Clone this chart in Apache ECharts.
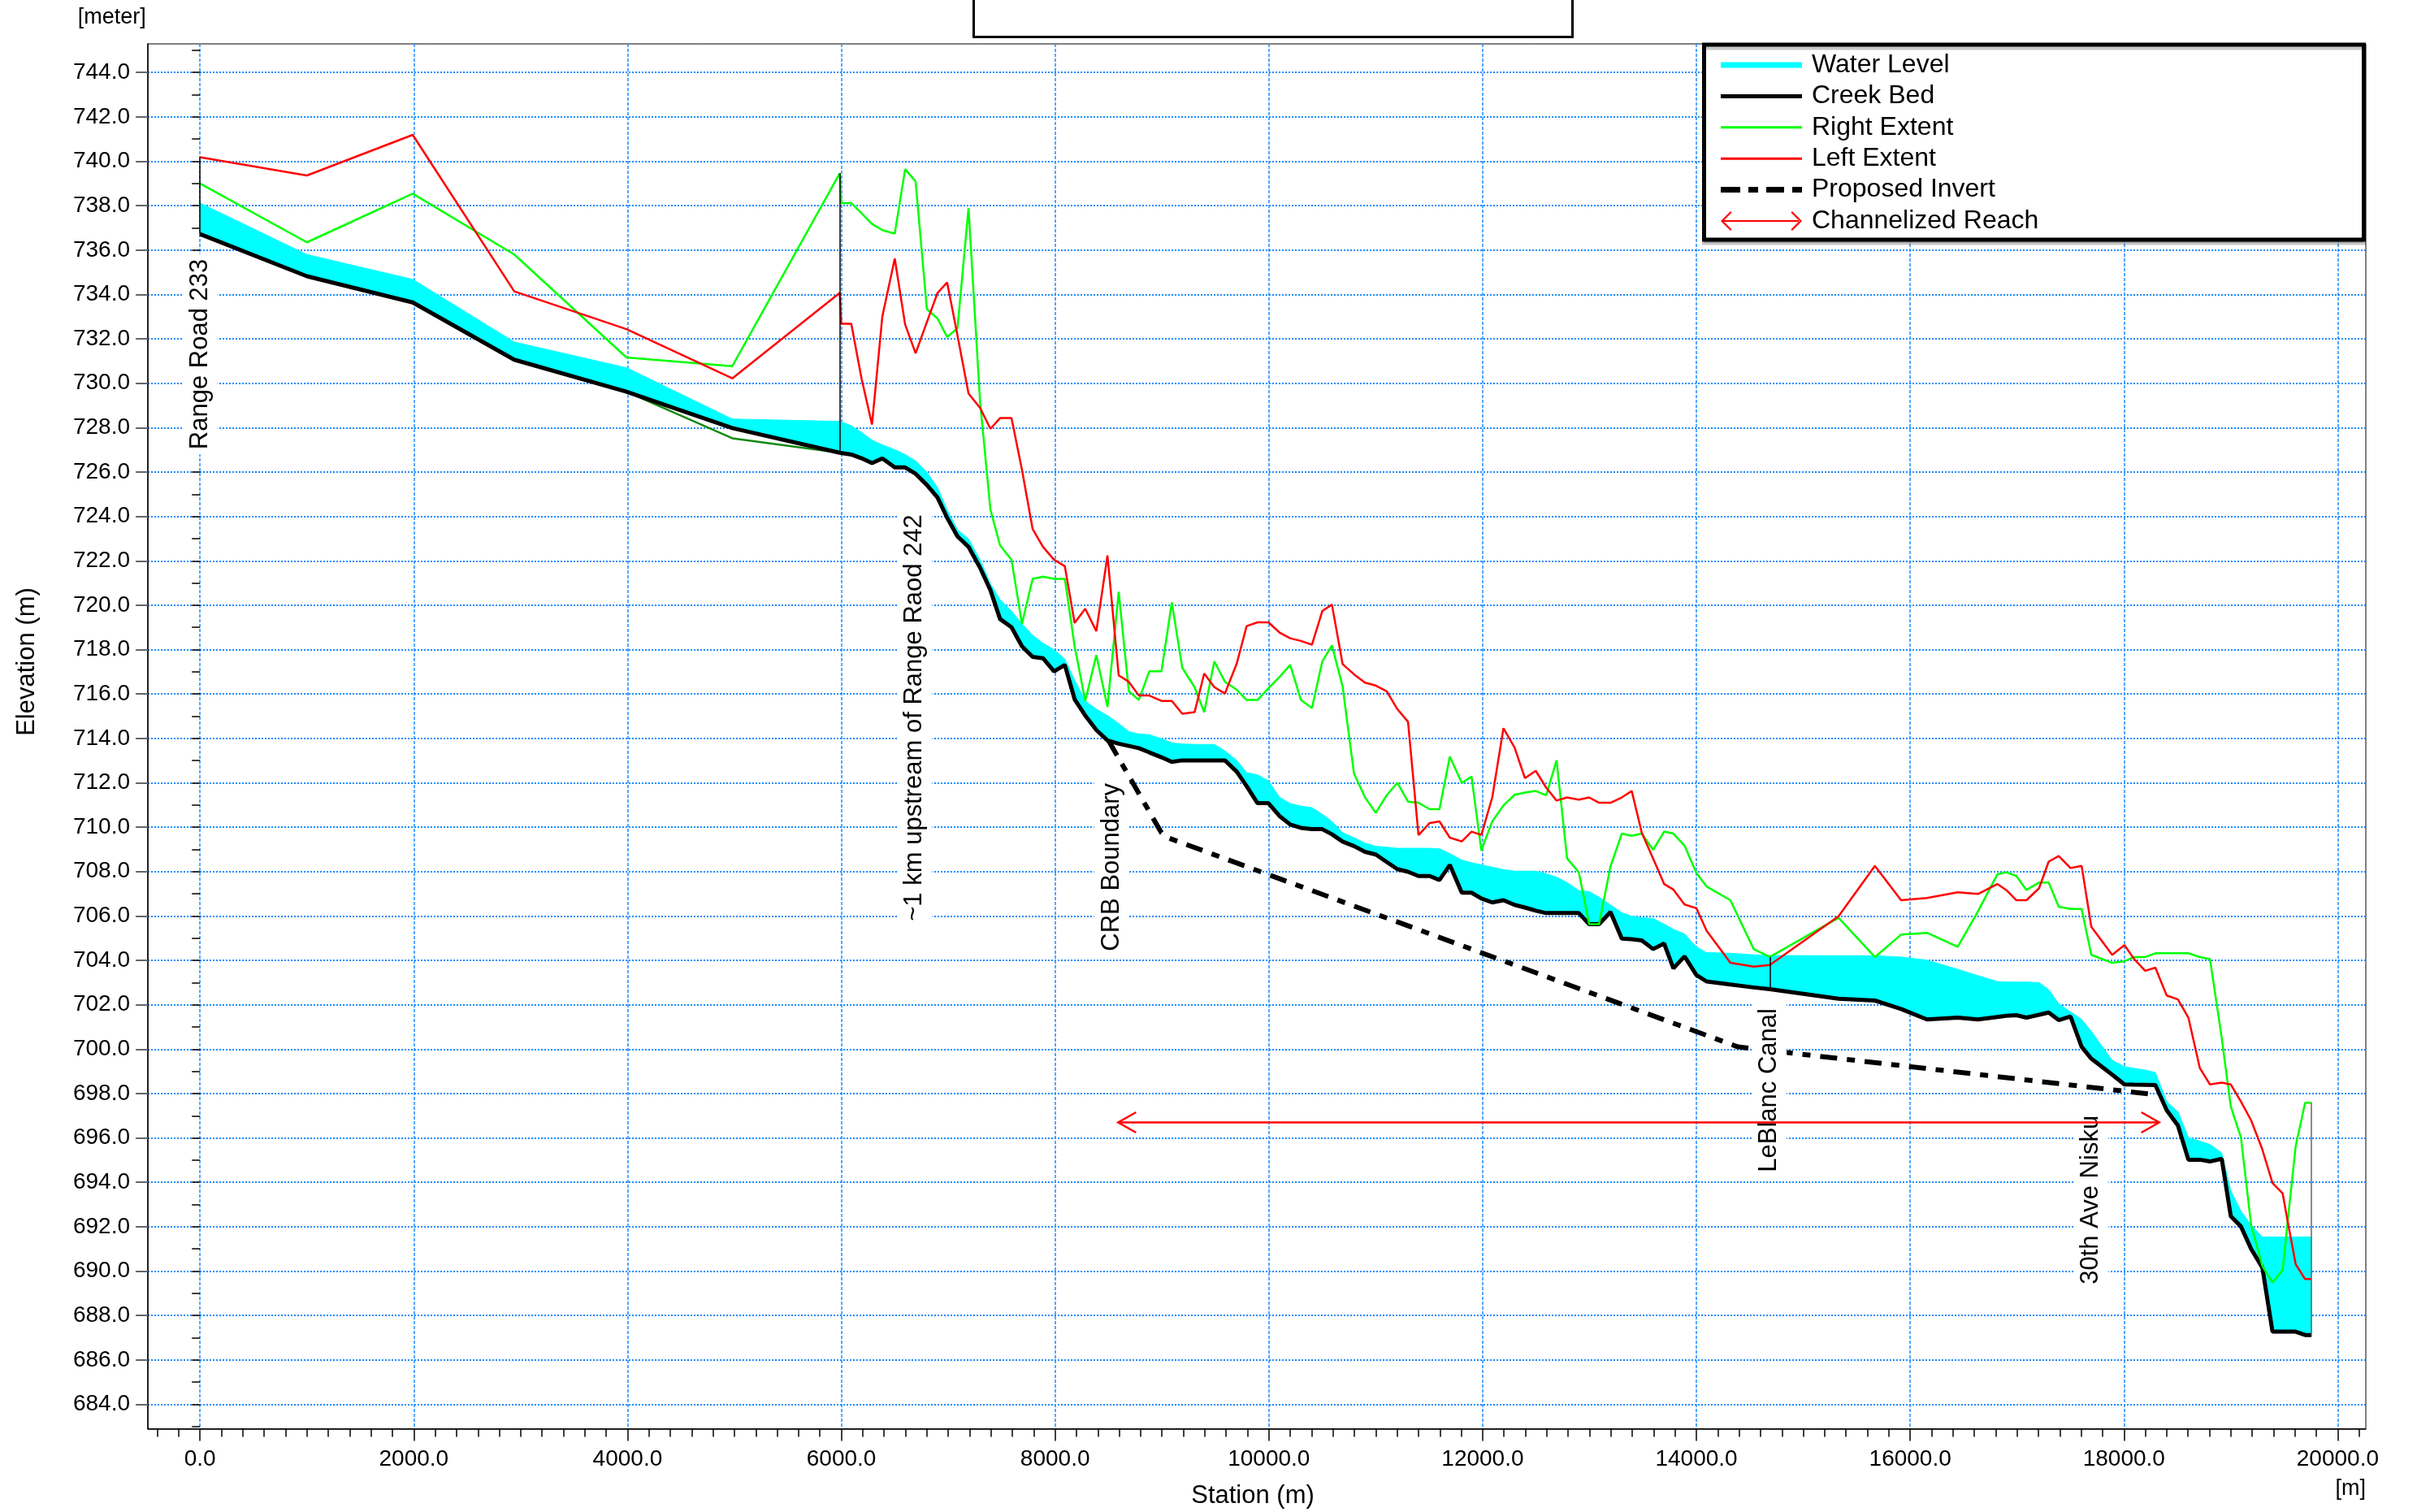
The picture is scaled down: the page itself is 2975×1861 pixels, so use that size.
<!DOCTYPE html>
<html>
<head>
<meta charset="utf-8">
<title>Creek Profile</title>
<script src="https://cdn.jsdelivr.net/npm/echarts@6/dist/echarts.min.js"></script>
<style>
  html, body { margin: 0; padding: 0; background: #fff; }
  #chart { width: 2975px; height: 1861px; }
</style>
</head>
<body>
<div id="chart"></div>
<script>
// ---------------------------------------------------------------------------
// Profile data: one row per cross-section station (m) with elevations (m)
// ---------------------------------------------------------------------------
const stations = [0,1000,1990,2940,3990,4980,5985,6000,6093,6190,6287,6384,6500,6597,6695,6800,6900,6990,7087,7190,7298,7395,7485,7592,7690,7790,7887,7990,8091,8183,8282,8386,8490,8595,8690,8784,8881,8995,9092,9190,9305,9395,9490,9589,9700,9792,9894,9996,10100,10200,10300,10403,10500,10590,10690,10796,10900,11000,11103,11202,11302,11400,11505,11596,11693,11805,11896,11988,12090,12195,12299,12396,12497,12595,12692,12790,12900,12997,13089,13196,13302,13395,13489,13595,13698,13785,13889,14000,14095,14318,14536,14687,15330,15670,15915,16157,16445,16635,16815,16899,16994,17088,17206,17296,17390,17500,17604,17695,17890,18005,18095,18199,18294,18400,18505,18603,18710,18805,18915,19000,19095,19190,19295,19390,19485,19532,19607,19695,19755];

const creekBed = [736.72,734.82,733.64,731.06,729.62,727.98,726.87,726.87,726.79,726.62,726.40,726.61,726.21,726.21,725.92,725.42,724.85,723.94,723.10,722.63,721.69,720.68,719.38,719.01,718.15,717.67,717.61,717.02,717.31,715.76,715.03,714.38,713.91,713.76,713.66,713.56,713.37,713.15,712.94,713.01,713.01,713.01,713.01,713.01,712.50,711.85,711.08,711.08,710.50,710.12,709.97,709.91,709.91,709.68,709.35,709.15,708.89,708.77,708.43,708.11,707.99,707.80,707.80,707.62,708.30,707.05,707.05,706.79,706.61,706.71,706.50,706.38,706.24,706.13,706.13,706.13,706.13,705.63,705.63,706.18,704.98,704.95,704.90,704.51,704.76,703.64,704.18,703.34,703.05,702.91,702.78,702.70,702.27,702.19,701.81,701.34,701.42,701.34,701.45,701.50,701.53,701.42,701.55,701.65,701.31,701.47,700.11,699.57,698.85,698.41,698.40,698.39,698.38,697.25,696.56,695.02,695.02,694.94,695.06,692.47,692.01,691.00,690.16,687.27,687.27,687.27,687.27,687.12,687.12];

const waterLevel = [738.12,735.80,734.68,731.86,730.70,728.39,728.28,728.26,728.09,727.78,727.44,727.22,727.01,726.79,726.50,726.00,725.30,724.30,723.40,722.99,722.05,720.97,720.25,719.74,719.16,718.65,718.29,718.00,717.57,716.63,715.69,715.32,715.03,714.67,714.31,714.20,714.17,713.99,713.80,713.75,713.73,713.73,713.73,713.44,713.01,712.46,712.36,712.09,711.35,711.07,710.95,710.88,710.58,710.26,709.75,709.53,709.28,709.14,709.10,709.05,709.05,709.05,709.05,709.03,708.81,708.52,708.40,708.30,708.20,708.09,708.02,708.02,708.02,707.90,707.75,707.51,707.15,707.10,706.85,706.50,706.15,705.99,705.92,705.89,705.63,705.40,705.19,704.61,704.35,704.32,704.25,704.22,704.21,704.21,704.15,704.01,703.60,703.31,703.05,703.03,703.02,703.02,703.00,702.68,702.05,701.68,701.34,700.80,699.50,699.21,699.13,699.06,698.95,697.64,697.18,696.02,695.86,695.71,695.32,693.63,692.70,692.08,691.54,691.54,691.54,691.54,691.54,691.54,691.54];

const rightExtent = [739.00,736.35,738.54,735.80,731.16,730.77,739.46,738.12,738.12,737.65,737.18,736.90,736.74,739.65,739.09,733.35,732.92,732.08,732.48,737.89,729.18,724.30,722.70,722.05,719.16,721.19,721.29,721.19,721.19,718.15,715.69,717.75,715.42,720.61,716.12,715.73,717.02,717.02,720.13,717.18,716.31,715.18,717.47,716.55,716.19,715.73,715.73,716.26,716.77,717.31,715.73,715.37,717.47,718.19,716.34,712.43,711.34,710.65,711.44,712.00,711.15,711.10,710.81,710.81,713.18,711.99,712.28,708.95,710.26,710.98,711.46,711.56,711.63,711.44,713.01,708.59,707.97,705.63,705.63,708.23,709.71,709.61,709.71,708.98,709.80,709.71,709.17,707.94,707.33,706.71,704.51,704.15,705.92,704.15,705.16,705.24,704.61,706.21,707.87,707.97,707.80,707.17,707.51,707.51,706.42,706.32,706.32,704.25,703.89,703.96,704.15,704.15,704.32,704.32,704.32,704.32,704.15,704.06,700.50,697.41,696.02,692.08,690.23,689.49,690.05,692.24,695.63,697.59,697.59];

const leftExtent = [740.18,739.36,741.19,734.14,732.44,730.22,734.07,732.68,732.68,730.19,728.14,733.02,735.62,732.65,731.35,732.75,734.07,734.54,732.15,729.54,728.89,727.95,728.43,728.43,726.10,723.43,722.63,722.05,721.76,719.20,719.84,718.83,722.24,716.84,716.55,715.93,715.93,715.69,715.69,715.11,715.18,716.92,716.31,716.02,717.38,719.06,719.23,719.23,718.77,718.51,718.39,718.22,719.74,720.03,717.35,716.89,716.51,716.38,716.12,715.32,714.75,709.64,710.19,710.26,709.53,709.36,709.80,709.65,711.34,714.46,713.59,712.21,712.54,711.78,711.20,711.34,711.24,711.34,711.10,711.10,711.34,711.63,709.75,708.59,707.44,707.19,706.52,706.35,705.34,703.89,703.72,703.79,705.99,708.26,706.71,706.81,707.07,706.99,707.44,707.17,706.71,706.71,707.25,708.45,708.70,708.16,708.26,705.51,704.25,704.69,704.06,703.53,703.67,702.42,702.24,701.42,699.15,698.41,698.49,698.41,697.64,696.79,695.48,693.97,693.50,692.24,690.31,689.64,689.64];

// Older ground trace upstream of the 6000 m section
const groundStations = [3990, 4980, 5985];
const groundElev = [729.62, 727.52, 726.87];

// Proposed channel invert
const invertStations = [8500, 8995, 9070, 14390, 18290];
const invertElev = [713.90, 709.75, 709.50, 700.10, 697.95];

// Channelized reach extent
const reachStations = [8590, 18330];
const reachElev = 696.7;

// Cross-sections drawn as vertical ties (index into stations)
const sectionIndex = [0, 6, 91, 128];
const sectionColor = ['#000', '#000', '#000', '#666'];

// Location notes (station, elevation at centre of the text)
const notes = [
  { text: 'Range Road 233', station: 0, elev: 731.31 },
  { text: '~1 km upstream of Range Raod 242', station: 6687, elev: 714.93 },
  { text: 'CRB Boundary', station: 8528, elev: 708.20 },
  { text: 'LeBlanc Canal', station: 14681, elev: 698.15 },
  { text: '30th Ave Nisku', station: 17692, elev: 693.21 }
];

// Axis ticks
const stationTicks = [0, 2000, 4000, 6000, 8000, 10000, 12000, 14000, 16000, 18000, 20000];
const elevationTicks = [684,686,688,690,692,694,696,698,700,702,704,706,708,710,712,714,716,718,720,722,724,726,728,730,732,734,736,738,740,742,744];
const stationMinor = [];
for (let s = -400; s <= 20200; s += 200) stationMinor.push(s);
const elevationMinor = [];
for (let e = 683; e <= 745; e += 1) elevationMinor.push(e);

// ---------------------------------------------------------------------------
const FONT = '"Liberation Sans", Arial, Helvetica, sans-serif';
const GRID = '#1e8cff';
const X_MIN = -488, X_MAX = 20263;
const Y_MIN = 682.9, Y_MAX = 745.29;

const pairs = (xs, ys) => xs.map((x, i) => [x, ys[i]]);

const arrowIcon = 'path://M3,11 L97,11 L97,13 L3,13 Z M0,12 L12,0 L13.6,1.6 L3.2,12 L13.6,22.4 L12,24 Z M100,12 L88,0 L86.4,1.6 L96.8,12 L86.4,22.4 L88,24 Z';

const chart = echarts.init(document.getElementById('chart'), null, { renderer: 'canvas', width: 2975, height: 1861 });

// Water body: polygon between the water surface and the creek bed
function renderWater(params, api) {
  if (params.dataIndex !== 0) return null;
  const top = stations.map((s, i) => api.coord([s, waterLevel[i]]));
  const bottom = stations.map((s, i) => api.coord([s, creekBed[i]])).reverse();
  return {
    type: 'polygon',
    shape: { points: top.concat(bottom) },
    style: { fill: '#00ffff', stroke: '#00ffff', lineWidth: 1 }
  };
}

// Double-headed arrow with open heads
function renderReach(params, api) {
  const a = api.coord([api.value(0), api.value(1)]);
  const b = api.coord([api.value(2), api.value(1)]);
  const hl = 22, hw = 12.5;
  const st = { stroke: '#ff0000', lineWidth: 2.5, fill: 'none' };
  return {
    type: 'group',
    children: [
      { type: 'line', shape: { x1: a[0], y1: a[1], x2: b[0], y2: b[1] }, style: st },
      { type: 'polyline', shape: { points: [[a[0] + hl, a[1] - hw], [a[0], a[1]], [a[0] + hl, a[1] + hw]] }, style: st },
      { type: 'polyline', shape: { points: [[b[0] - hl, b[1] - hw], [b[0], b[1]], [b[0] - hl, b[1] + hw]] }, style: st }
    ]
  };
}

const option = {
  animation: false,
  backgroundColor: '#ffffff',
  grid: {
    left: 182, right: 63, top: 54, bottom: 102.5,
    show: true, borderColor: '#000', borderWidth: 1, backgroundColor: 'transparent',
    containLabel: false, outerBoundsMode: 'none'
  },
  xAxis: [
    {
      type: 'value', min: X_MIN, max: X_MAX, position: 'bottom',
      axisLine: { show: true, onZero: false, lineStyle: { color: '#000', width: 1.5 } },
      axisTick: { show: true, length: 15, customValues: stationTicks, lineStyle: { color: '#000', width: 1.5 } },
      axisLabel: { customValues: stationTicks, formatter: v => v.toFixed(1), fontSize: 28, fontFamily: FONT, color: '#000', margin: 24 },
      splitLine: { show: true, lineStyle: { color: GRID, width: 1.5, type: [4, 2] } }
    },
    {
      type: 'value', min: X_MIN, max: X_MAX, position: 'bottom',
      axisLine: { show: false },
      axisTick: { show: true, length: 10, customValues: stationMinor, lineStyle: { color: '#000', width: 1.5 } },
      axisLabel: { show: false },
      splitLine: { show: false }
    }
  ],
  yAxis: [
    {
      type: 'value', min: Y_MIN, max: Y_MAX, position: 'left',
      axisLine: { show: true, onZero: false, lineStyle: { color: '#000', width: 1.5 } },
      axisTick: { show: true, length: 15, customValues: elevationTicks, lineStyle: { color: '#666', width: 2 } },
      axisLabel: { customValues: elevationTicks, formatter: v => v.toFixed(1), fontSize: 28, fontFamily: FONT, color: '#000', margin: 22 },
      splitLine: { show: true, lineStyle: { color: GRID, width: 2, type: [2, 2] } }
    },
    {
      type: 'value', min: Y_MIN, max: Y_MAX, position: 'left',
      axisLine: { show: false },
      axisTick: { show: true, length: 10, customValues: elevationMinor, lineStyle: { color: '#000', width: 1.5 } },
      axisLabel: { show: false },
      splitLine: { show: false }
    }
  ],
  legend: {
    orient: 'vertical', left: 2118, top: 61, padding: 0,
    itemGap: 0.4, itemWidth: 100, itemHeight: 24,
    symbolKeepAspect: true, selectedMode: false, z: 8,
    textStyle: { fontSize: 32, fontFamily: FONT, color: '#000', lineHeight: 38, padding: [0, 0, 0, 7] },
    data: [
      { name: 'Water Level', icon: 'path://M0,0H100V7H0Z' },
      { name: 'Creek Bed', icon: 'path://M0,0H100V5H0Z' },
      { name: 'Right Extent', icon: 'path://M0,0H100V3H0Z' },
      { name: 'Left Extent', icon: 'path://M0,0H100V3H0Z' },
      { name: 'Proposed Invert', icon: 'path://M0,0H24V7H0Z M34,0H46V7H34Z M56,0H78V7H56Z M88,0H100V7H88Z' },
      { name: 'Channelized Reach', icon: arrowIcon }
    ]
  },
  series: [
    {
      name: 'Water Level', type: 'custom', coordinateSystem: 'cartesian2d',
      data: stations.map((s, i) => [s, waterLevel[i], creekBed[i]]),
      encode: { x: 0, y: [1, 2] },
      renderItem: renderWater, silent: true, clip: true,
      color: '#00ffff', itemStyle: { color: '#00ffff' }, z: 2
    },
    {
      name: 'ground', type: 'line', data: pairs(groundStations, groundElev),
      symbol: 'none', silent: true, lineStyle: { color: '#118a11', width: 2.5 }, z: 3
    },
    {
      name: 'Creek Bed', type: 'line', data: pairs(stations, creekBed),
      symbol: 'none', silent: true, color: '#000',
      itemStyle: { color: '#000' }, lineStyle: { color: '#000', width: 5 }, z: 3
    },
    {
      name: 'sections', type: 'line', data: [], symbol: 'none', silent: true, z: 3,
      markLine: {
        silent: true, symbol: ['none', 'none'], label: { show: false },
        emphasis: { disabled: true },
        lineStyle: { type: 'solid', width: 1.5, color: '#000' },
        data: sectionIndex.map((i, k) => [
          { coord: [stations[i], Math.max(leftExtent[i], rightExtent[i])], lineStyle: { color: sectionColor[k], width: 1.5, type: 'solid' } },
          { coord: [stations[i], creekBed[i]] }
        ])
      }
    },
    {
      name: 'Right Extent', type: 'line', data: pairs(stations, rightExtent),
      symbol: 'none', silent: true, color: '#00ff00',
      itemStyle: { color: '#00ff00' }, lineStyle: { color: '#00ff00', width: 2.5 }, z: 4
    },
    {
      name: 'Left Extent', type: 'line', data: pairs(stations, leftExtent),
      symbol: 'none', silent: true, color: '#ff0000',
      itemStyle: { color: '#ff0000' }, lineStyle: { color: '#ff0000', width: 2.5 }, z: 4
    },
    {
      name: 'Proposed Invert', type: 'line', data: pairs(invertStations, invertElev),
      symbol: 'none', silent: true, color: '#000',
      itemStyle: { color: '#000' }, lineStyle: { color: '#000', width: 6, type: [21, 12, 10, 12], cap: 'butt' }, z: 4
    },
    {
      name: 'Channelized Reach', type: 'custom', coordinateSystem: 'cartesian2d',
      data: [[reachStations[0], reachElev, reachStations[1]]],
      encode: { x: [0, 2], y: 1 },
      renderItem: renderReach, silent: true,
      color: '#ff0000', itemStyle: { color: '#ff0000' }, z: 6
    }
  ]
};

chart.setOption(option);

// Fixed page furniture: legend frame, heading frame, axis titles, units
const frames = [
  { type: 'rect', z: 7, silent: true, shape: { x: 1198.5, y: -10, width: 737, height: 55.5 },
    style: { fill: '#fff', stroke: '#000', lineWidth: 3 } },
  { type: 'rect', z: 7, silent: true, shape: { x: 2097.5, y: 55, width: 812, height: 240 },
    style: { fill: '#fff', stroke: '#000', lineWidth: 5, shadowColor: 'rgba(0,0,0,0.22)', shadowOffsetY: 4, shadowBlur: 0 } },
  { type: 'text', z: 5, silent: true, x: 95.7, y: 21.7,
    style: { text: '[meter]', font: '27px ' + FONT, fill: '#000', align: 'left', verticalAlign: 'middle' } },
  { type: 'text', z: 5, silent: true, x: 2912, y: 1833,
    style: { text: '[m]', font: '27px ' + FONT, fill: '#000', align: 'right', verticalAlign: 'middle' } },
  { type: 'text', z: 5, silent: true, x: 1542, y: 1841,
    style: { text: 'Station (m)', font: '31px ' + FONT, fill: '#000', align: 'center', verticalAlign: 'middle' } },
  { type: 'text', z: 5, silent: true, x: 33.5, y: 814.5, rotation: Math.PI / 2,
    style: { text: 'Elevation (m)', font: '31px ' + FONT, fill: '#000', align: 'center', verticalAlign: 'middle' } }
];

// Location notes placed through the chart's own scales
const noteLabels = notes.map(n => {
  const p = chart.convertToPixel({ gridIndex: 0 }, [n.station, n.elev]);
  return {
    type: 'text', z: 5, silent: true, x: p[0], y: p[1], rotation: Math.PI / 2,
    style: {
      text: n.text, font: '31px ' + FONT, fill: '#000', align: 'center', verticalAlign: 'middle',
      backgroundColor: '#fff', padding: [6, 6]
    }
  };
});

chart.setOption({ graphic: frames.concat(noteLabels) });
</script>
</body>
</html>
